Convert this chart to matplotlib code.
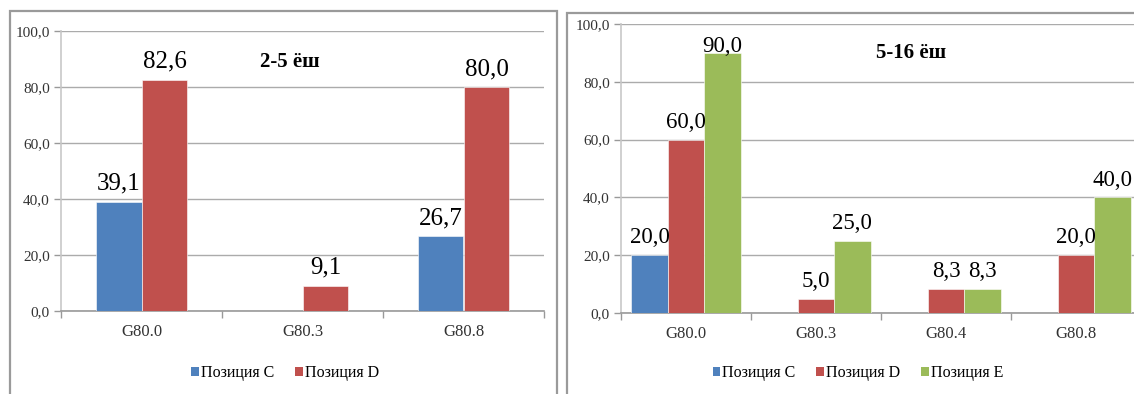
import numpy as np
import matplotlib
matplotlib.use("Agg")
import matplotlib.pyplot as plt
from matplotlib.patches import Rectangle, Patch
from matplotlib import font_manager

# pick a Times-like serif face that is actually present
_serif = None
for name in ["Liberation Serif", "Times New Roman", "Nimbus Roman", "DejaVu Serif"]:
    try:
        font_manager.findfont(font_manager.FontProperties(family=name),
                              fallback_to_default=False)
        _serif = name
        break
    except Exception:
        continue
plt.rcParams['font.family'] = 'serif'
plt.rcParams['font.serif'] = [_serif or "DejaVu Serif"]

# --- data -------------------------------------------------------------
left_title = "2-5 ёш"
left_categories = ["G80.0", "G80.3", "G80.8"]
left_pos_c = [39.1, np.nan, 26.7]
left_pos_d = [82.6, 9.1, 80.0]

right_title = "5-16 ёш"
right_categories = ["G80.0", "G80.3", "G80.4", "G80.8"]
right_pos_c = [20.0, np.nan, np.nan, np.nan]
right_pos_d = [60.0, 5.0, 8.3, 20.0]
right_pos_e = [90.0, 25.0, 8.3, 40.0]

series_names = ["Позиция C", "Позиция D", "Позиция E"]
y_ticks = [0, 20, 40, 60, 80, 100]

COLORS = ["#4F81BD", "#C0504D", "#9BBB59"]
GRID = "#ababab"

W, H = 1134, 394
fig = plt.figure(figsize=(W / 100, H / 100), dpi=100)


def fx(px):
    return px / W


def fy(py):
    return 1 - py / H


def comma(v):
    return f"{v:.1f}".replace(".", ",")


def draw_panel(ax, categories, series, width, label_size, title, title_xy):
    n = len(series)
    x = np.arange(len(categories))
    offsets = (np.arange(n) - (n - 1) / 2) * width
    for vals, off, col in zip(series, offsets, COLORS):
        vals = np.asarray(vals, dtype=float)
        ax.bar(x + off, np.nan_to_num(vals), width, color=col, zorder=3,
               edgecolor="white", linewidth=0.4)
        for xi, v in zip(x + off, vals):
            if np.isnan(v):
                continue
            dy = 1 if v > 85 else 8.5
            ax.annotate(comma(v), (xi, v), xytext=(0, dy),
                        textcoords="offset points", ha="center",
                        va="baseline", fontsize=label_size, zorder=4)
    ax.set_xlim(-0.5, len(categories) - 0.5)
    ax.set_ylim(0, 100)
    ax.set_yticks(y_ticks)
    ax.set_yticklabels([comma(t) for t in y_ticks], fontsize=11,
                       color="#333333")
    ax.yaxis.grid(True, color=GRID, linewidth=1.0, zorder=0)
    ax.set_xticks(x)
    ax.set_xticklabels(categories, fontsize=12, color="#333333")
    ax.set_xticks(np.arange(len(categories) + 1) - 0.5, minor=True)
    ax.tick_params(axis="x", which="major", length=0, pad=9)
    ax.tick_params(axis="x", which="minor", length=5, color="#999999",
                   width=1)
    ax.tick_params(axis="y", length=5, color="#999999", width=1, pad=3)
    for s in ("top", "right"):
        ax.spines[s].set_visible(False)
    ax.spines["left"].set_color("#c8c8c8")
    ax.spines["bottom"].set_color("#999999")
    ax.spines["left"].set_linewidth(1.2)
    ax.spines["bottom"].set_linewidth(1.2)
    ax.set_axisbelow(True)
    fig.text(fx(title_xy[0]), fy(title_xy[1]), title, fontsize=15,
             fontweight="bold", ha="center", va="center")


# --- left panel -------------------------------------------------------
axL = fig.add_axes([fx(61), fy(311), fx(544 - 61), (311 - 31) / H])
draw_panel(axL, left_categories, [left_pos_c, left_pos_d], 0.285, 18,
           left_title, (290, 62))

# --- right panel ------------------------------------------------------
axR = fig.add_axes([fx(621), fy(313), fx(1141 - 621), (313 - 24) / H])
draw_panel(axR, right_categories, [right_pos_c, right_pos_d, right_pos_e],
           0.28, 16.5, right_title, (911, 53))

# --- chart frames -----------------------------------------------------
for x0, y0, x1 in [(10, 11, 557), (567, 13, 1160)]:
    fig.patches.append(Rectangle((fx(x0), fy(H + 10)), fx(x1 - x0),
                                 (H + 10 - y0) / H, transform=fig.transFigure,
                                 fill=False, edgecolor="#9a9a9a",
                                 linewidth=1.6, zorder=0))

# --- legends ----------------------------------------------------------
def legend(names, cx):
    handles = [Patch(facecolor=c, edgecolor="none") for c in COLORS[:len(names)]]
    fig.legend(handles, names, loc="center", bbox_to_anchor=(fx(cx), fy(373)),
               ncol=len(names), frameon=False, fontsize=11.5,
               handlelength=0.5, handleheight=0.55, handletextpad=0.12,
               columnspacing=1.3, borderpad=0)


legend(series_names[:2], 285)
legend(series_names, 858)

fig.savefig("out.png", dpi=100)
